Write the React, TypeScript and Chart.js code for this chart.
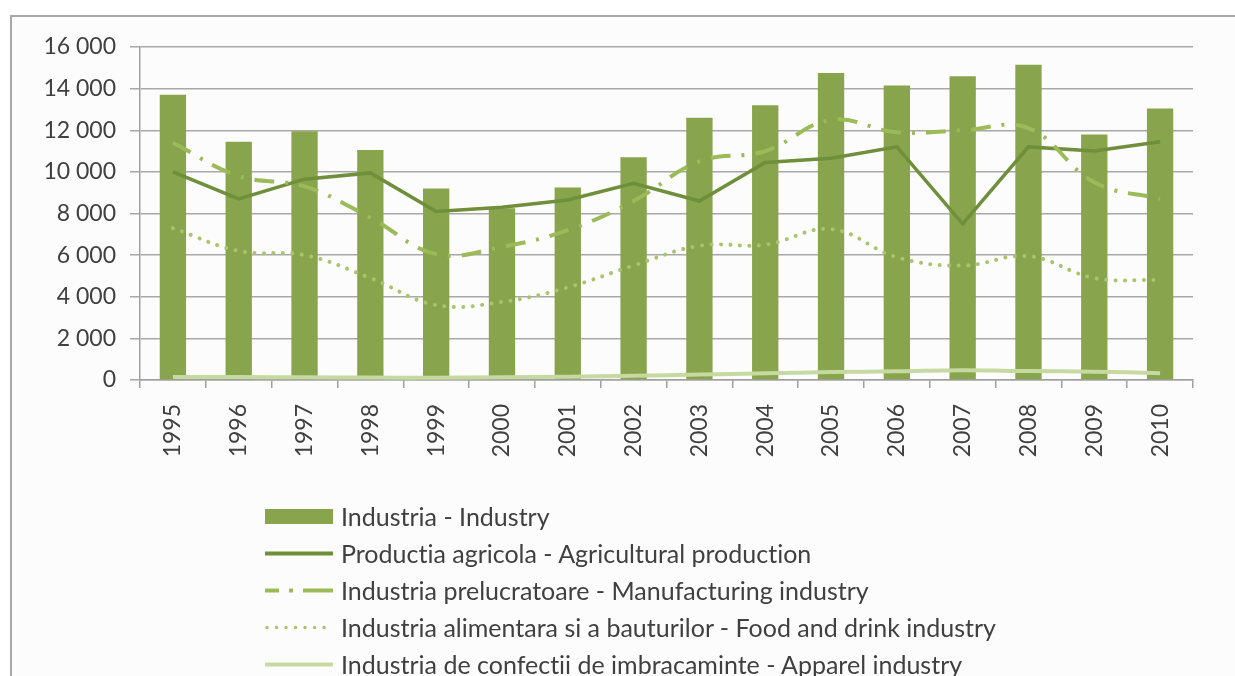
import React, { useEffect, useRef } from "react";
import { Chart, registerables } from "chart.js";

Chart.register(...registerables);

const years = ["1995","1996","1997","1998","1999","2000","2001","2002","2003","2004","2005","2006","2007","2008","2009","2010"];
const industry = [13700, 11450, 11950, 11050, 9200, 8250, 9250, 10700, 12600, 13200, 14750, 14150, 14600, 15150, 11800, 13050];
const agricultural = [10000, 8700, 9650, 9950, 8100, 8300, 8650, 9450, 8600, 10450, 10650, 11200, 7500, 11200, 11000, 11450];
const manufacturing = [11400, 9800, 9300, 7800, 6050, 6400, 7200, 8600, 10500, 11000, 12500, 11900, 12000, 12100, 9500, 8700];
const foodDrink = [7300, 6200, 6000, 4900, 3600, 3750, 4450, 5500, 6450, 6500, 7250, 5900, 5500, 5950, 4900, 4800];
const apparel = [150, 140, 130, 120, 110, 130, 160, 200, 260, 320, 380, 420, 470, 430, 400, 330];
const yTicks = [0, 2000, 4000, 6000, 8000, 10000, 12000, 14000, 16000];

const labels = [
  "Industria - Industry",
  "Productia agricola - Agricultural production",
  "Industria prelucratoare - Manufacturing industry",
  "Industria alimentara si a bauturilor - Food and drink industry",
  "Industria de confectii de imbracaminte - Apparel industry",
];

const C_BAR = "#88a44c";
const C_AGR = "#6f8f3a";
const C_MAN = "#9bbb59";
const C_FOOD = "#a8c56c";
const C_APP = "#c6d9a0";
const TXT = "#404040";

function fmt(v: number) {
  const s = String(v);
  if (s.length <= 3) return s;
  return s.slice(0, s.length - 3) + " " + s.slice(s.length - 3);
}

export default function App() {
  const ref = useRef<HTMLCanvasElement | null>(null);
  useEffect(() => {
    if (!ref.current) return;
    const chart = new Chart(ref.current, {
      type: "bar",
      data: {
        labels: years,
        datasets: [
          {
            type: "line",
            label: labels[4],
            data: apparel,
            borderColor: C_APP,
            borderWidth: 4,
            pointRadius: 0,
            tension: 0.4,
            order: 1,
          } as any,
          {
            type: "line",
            label: labels[3],
            data: foodDrink,
            borderColor: C_FOOD,
            borderWidth: 4,
            borderDash: [0.01, 9.5],
            borderCapStyle: "round",
            pointRadius: 0,
            tension: 0.4,
            order: 2,
          } as any,
          {
            type: "line",
            label: labels[2],
            data: manufacturing,
            borderColor: C_MAN,
            borderWidth: 4,
            borderDash: [20, 11, 3, 11],
            pointRadius: 0,
            tension: 0.4,
            order: 3,
          } as any,
          {
            type: "line",
            label: labels[1],
            data: agricultural,
            borderColor: C_AGR,
            borderWidth: 3.5,
            pointRadius: 0,
            tension: 0,
            order: 4,
          } as any,
          {
            type: "bar",
            label: labels[0],
            data: industry,
            backgroundColor: C_BAR,
            categoryPercentage: 1,
            barPercentage: 0.4,
            order: 10,
          } as any,
        ],
      },
      options: {
        responsive: false,
        animation: false,
        layout: { padding: { left: 20, right: 42, top: 47, bottom: 0 } },
        plugins: { legend: { display: false }, tooltip: { enabled: false } },
        scales: {
          x: {
            offset: true,
            grid: { display: true, drawOnChartArea: false, drawTicks: true, tickLength: 8, color: "#a0a0a0", lineWidth: 1.5 },
            border: { display: true, color: "#a0a0a0", width: 1.5 },
            ticks: {
              minRotation: 90,
              maxRotation: 90,
              padding: 16,
              color: TXT,
              font: { family: "Lato", size: 23 },
            },
            afterFit: (s: any) => { s.height = 296; },
          },
          y: {
            min: 0,
            max: 16000,
            afterBuildTicks: (s: any) => { s.ticks = yTicks.map((v) => ({ value: v })); },
            grid: { color: "#a8a8a8", lineWidth: 1.5, tickLength: 10 },
            border: { display: true, color: "#a0a0a0", width: 1.5 },
            ticks: {
              padding: 14,
              color: TXT,
              font: { family: "Lato", size: 23 },
              callback: (v: any) => fmt(Number(v)),
            },
            afterFit: (s: any) => { s.width = 120; },
          },
        },
      },
    });
    return () => chart.destroy();
  }, []);

  const rowTop = [503, 540, 577, 614, 651];
  const sym = (i: number) => {
    const w = 68;
    if (i === 0) return <rect x={0} y={0} width={w} height={15} fill={C_BAR} />;
    if (i === 1) return <line x1={0} y1={7.5} x2={w} y2={7.5} stroke={C_AGR} strokeWidth={4} />;
    if (i === 2) return <line x1={0} y1={7.5} x2={w} y2={7.5} stroke={C_MAN} strokeWidth={4} strokeDasharray="14 10 4 10 30" />;
    if (i === 3) return <line x1={2} y1={7.5} x2={w} y2={7.5} stroke={C_FOOD} strokeWidth={3.5} strokeLinecap="round" strokeDasharray="0.01 9.5" />;
    return <line x1={0} y1={7.5} x2={w} y2={7.5} stroke={C_APP} strokeWidth={4} />;
  };

  return (
    <div style={{ position: "fixed", left: 0, top: 0, width: 1235, height: 676, overflow: "hidden", background: "#ffffff" }}>
      <div style={{ position: "absolute", left: 10, top: 15, width: 1300, height: 700, borderLeft: "2px solid #a8a8a8", borderTop: "2px solid #a8a8a8", background: "#fcfcfc" }} />
      <canvas ref={ref} width={1235} height={676} style={{ position: "absolute", left: 0, top: 0 }} />
      {labels.map((t, i) => (
        <div key={i} style={{ position: "absolute", left: 265, top: rowTop[i], height: 26, display: "flex", alignItems: "center", whiteSpace: "nowrap" }}>
          <svg width={68} height={15} style={{ display: "block" }}>{sym(i)}</svg>
          <span style={{ marginLeft: 8, fontFamily: "Lato", fontSize: 25, fontVariantLigatures: "none", fontFeatureSettings: '"liga" 0, "clig" 0', color: TXT, lineHeight: "26px" }}>{t}</span>
        </div>
      ))}
    </div>
  );
}
